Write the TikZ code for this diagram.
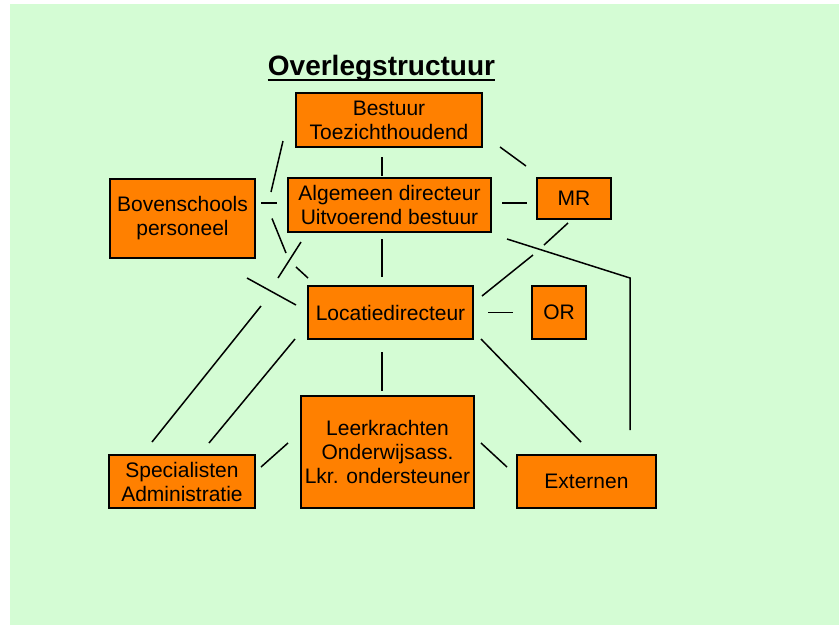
\documentclass[tikz,border=0pt]{standalone}
\usepackage{fontspec}
\setmainfont{Liberation Sans}
\usetikzlibrary{positioning,calc}
\definecolor{boxorange}{RGB}{255,128,0}
\definecolor{bggreen}{RGB}{212,252,212}

\begin{document}
\begin{tikzpicture}[
    x=1pt, y=-1pt,
    font=\fontsize{21}{24}\selectfont,
    block/.style={
		rectangle,
		draw=black,
		line width=1.5pt,
		fill=boxorange,
		align=center,
		inner sep=0pt,
		outer sep=0pt
	},
	link/.style={
		draw=black,
		line width=1.5pt
	}
  ]
  \useasboundingbox (0,0) rectangle (839,625);
  \fill [bggreen] (10,4) rectangle (839,625);

  % We start by placing the title and the blocks
  \node [anchor=base, inner sep=0pt, font=\fontsize{28}{32}\selectfont\bfseries] (title) at (381.5,75) {Overlegstructuur};
  \draw [line width=2.5pt] ($(title.base west)+(0,5)$) -- ($(title.base east)+(0,5)$);

  \node [block, minimum width=186pt, minimum height=54pt] (bestuur) at (389,120)
  {Bestuur\\Toezichthoudend};

  \node [block, minimum width=203pt, minimum height=54pt] (algdir) at (389.5,205)
  {Algemeen directeur\\Uitvoerend bestuur};

  \node [block, minimum width=74pt, minimum height=41pt] (mr) at (574,198.5)
  {MR};

  \node [block, minimum width=145pt, minimum height=79pt] (boven) at (182.5,218.5)
  {Bovenschools\\personeel};

  \node [block, minimum width=165pt, minimum height=53pt] (locdir) at (390.5,312.5)
  {Locatiedirecteur};

  \node [block, minimum width=54pt, minimum height=53pt, right=59pt of locdir] (or)
  {OR};

  \node [block, minimum width=173pt, minimum height=112pt] (leer) at (387.5,452)
  {Leerkrachten\\Onderwijsass.\\Lkr. ondersteuner};

  \node [block, minimum width=146pt, minimum height=53pt] (spec) at (182,481.5)
  {Specialisten\\Administratie};

  \node [block, minimum width=139pt, minimum height=53pt] (extern) at (586.5,481.5)
  {Externen};

  % Bestuur
  \draw [link] ($(boven.north east)+(16,13)$) -- ($(bestuur.south west)+(-13,-6)$);
  \draw [link] ($(bestuur.south)+(-7,10)$) -- ($(algdir.north)+(-7.5,-2)$);
  \draw [link] ($(bestuur.south east)+(18,0)$) -- ($(mr.north west)+(-11,-12)$);

  % Algemeen directeur
  \draw [link] ($(boven.north east)+(6,24)$) -- ($(algdir.north west)+(-11,25)$);
  \draw [link] ($(algdir.east)+(11,-2)$) -- ($(mr.west)+(-10,4.5)$);
  \draw [link] ($(algdir.south)+(-7.5,7)$) -- ($(locdir.north)+(-8.5,-9)$);
  \draw [link] ($(algdir.south west)+(13,10)$) -- ($(locdir.north west)+(-30,-8)$);
  \draw [link] ($(spec.north west)+(152,-149)$) -- ($(spec.north west)+(43,-13)$);

  % Bovenschools personeel
  \draw [link] ($(boven.east)+(17,0)$) -- ($(locdir.north west)+(-22,-33)$);
  \draw [link] ($(locdir.north west)+(-12,-19)$) -- ($(locdir.north west)+(0,-8)$);
  \draw [link] ($(boven.south east)+(-8,20)$) -- ($(locdir.west)+(-12,-7.5)$);

  % Locatiedirecteur
  \draw [link] ($(locdir.east)+(15,0)$) -- ($(or.west)+(-19,0)$);
  \draw [link] ($(locdir.south west)+(-13,0)$) -- ($(spec.north)+(27,-12)$);
  \draw [link] ($(locdir.south)+(-8.5,13)$) -- ($(leer.north)+(-5.5,-5)$);
  \draw [link] ($(locdir.south east)+(8,0)$) -- ($(extern.north)+(-5.5,-13)$);

  % MR
  \draw [link] ($(mr.south)+(-6,4)$) -- ($(mr.south)+(-30,26)$);
  \draw [link] ($(locdir.north east)+(60,-31)$) -- ($(locdir.north east)+(9,10)$);

  % Leerkrachten
  \draw [link] ($(leer.west)+(-13,-9)$) -- ($(spec.east)+(6,-14.5)$);
  \draw [link] ($(leer.east)+(7,-9)$) -- ($(extern.west)+(-10,-14.5)$);

  % Externen
  \coordinate (extbend) at ($(extern.north east)+(-26,-177)$);
  \draw [link] ($(algdir.south east)+(16,7)$) -- (extbend) -- ($(extern.north east)+(-26,-25)$);

\end{tikzpicture}
\end{document}
